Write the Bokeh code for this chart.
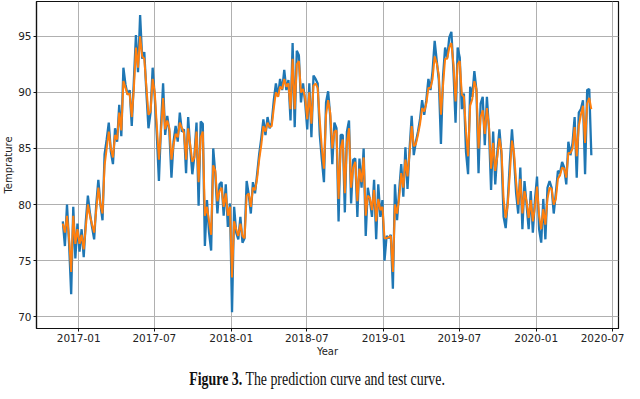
from datetime import datetime
import pandas as pd
from bokeh.plotting import figure
from bokeh.models import FixedTicker, DatetimeTickFormatter, Range1d, Div
from bokeh.layouts import column
from bokeh.embed import file_html
from bokeh.resources import INLINE

# ---- data (one value every 5 days) ----
start_date = "2016-11-24"
step = "5D"

test_values = [
    78.5, 76.3, 80.0, 76.5, 72.0, 79.8, 75.2, 78.3, 75.8, 77.8,
    75.3, 78.5, 80.8, 79.2, 78.0, 76.9, 80.0, 82.2, 80.0, 78.6,
    84.5, 85.8, 87.3, 84.7, 83.6, 86.8, 85.6, 88.9, 86.1, 92.2,
    90.7, 89.8, 90.2, 87.0, 91.0, 95.1, 91.8, 96.9, 93.0, 93.6,
    90.0, 86.8, 88.2, 92.2, 89.6, 86.2, 82.1, 87.0, 90.8, 86.2,
    87.9, 86.5, 82.4, 85.6, 87.0, 85.6, 88.2, 86.5, 86.7, 82.8,
    87.8, 85.0, 82.7, 84.4, 87.3, 79.9, 87.4, 87.2, 76.3, 80.4,
    77.5, 75.9, 85.0, 82.7, 79.2, 81.8, 82.0, 79.0, 81.8, 78.0,
    80.1, 70.4, 79.8, 77.5, 76.9, 78.9, 76.6, 77.0, 82.1, 80.9,
    79.2, 82.0, 81.0, 82.7, 84.5, 85.9, 87.6, 86.2, 87.8, 86.8,
    87.3, 89.3, 90.8, 89.6, 91.2, 90.2, 92.0, 90.2, 91.1, 87.5,
    94.4, 86.9, 93.7, 93.3, 89.1, 90.8, 89.1, 86.7, 90.8, 86.0,
    91.5, 91.2, 90.8, 86.2, 84.0, 82.0, 89.1, 90.1, 87.9, 83.6,
    87.3, 86.8, 78.5, 86.2, 86.2, 79.3, 86.5, 87.5, 80.1, 84.0,
    84.1, 78.9, 84.1, 81.5, 85.0, 77.2, 81.5, 80.4, 78.9, 82.2,
    76.9, 81.8, 78.9, 80.4, 75.0, 77.2, 77.0, 77.3, 72.5, 81.8,
    78.6, 81.2, 83.6, 80.7, 85.1, 81.4, 85.0, 87.9, 84.4, 85.6,
    86.5, 87.6, 89.3, 88.0, 89.3, 91.2, 90.2, 91.9, 94.6, 92.8,
    91.1, 85.4, 91.4, 94.0, 93.1, 94.9, 95.4, 91.9, 87.3, 94.0,
    93.1, 88.5, 89.9, 84.7, 82.7, 90.5, 89.6, 91.9, 90.2, 82.8,
    89.0, 89.6, 85.3, 89.6, 86.7, 81.3, 86.5, 81.8, 84.7, 86.7,
    84.4, 78.9, 77.9, 80.4, 83.8, 86.7, 84.1, 81.0, 79.2, 83.3,
    77.8, 82.1, 80.0, 77.8, 81.2, 77.5, 80.4, 82.5, 77.8, 76.6,
    80.5, 76.9, 81.5, 82.1, 81.5, 79.2, 81.0, 83.0, 82.8, 83.8,
    83.3, 81.8, 85.6, 84.4, 85.5, 87.8, 82.4, 88.2, 88.5, 89.3,
    82.7, 90.2, 90.3, 84.4,
]

pred_values = [
    78.3, 77.5, 79.0, 77.0, 74.0, 79.0, 76.5, 77.8, 76.5, 77.3,
    76.0, 78.0, 80.0, 79.0, 78.2, 77.5, 79.5, 81.5, 80.0, 79.2,
    83.5, 85.0, 86.5, 85.0, 84.2, 86.2, 85.8, 88.2, 86.6, 91.0,
    90.4, 89.8, 89.9, 87.8, 90.3, 94.0, 92.2, 95.0, 93.2, 93.0,
    90.5, 88.0, 88.3, 91.2, 90.0, 87.0, 84.0, 86.5, 89.5, 86.7,
    87.5, 86.8, 84.0, 85.3, 86.3, 86.0, 87.3, 86.8, 86.4, 84.0,
    86.8, 85.3, 83.8, 84.2, 86.5, 82.0, 86.0, 86.5, 79.0, 79.8,
    78.5, 77.3, 83.5, 83.0, 80.3, 81.2, 81.5, 79.8, 81.0, 79.0,
    79.8, 73.5, 78.5, 77.8, 77.2, 78.3, 77.2, 77.0, 80.8, 81.0,
    79.8, 81.5, 81.3, 82.3, 84.0, 85.3, 87.0, 86.5, 87.3, 86.9,
    87.0, 88.6, 90.0, 89.6, 90.5, 90.3, 91.2, 90.5, 90.8, 88.5,
    93.0, 88.5, 92.5, 92.8, 90.0, 90.3, 89.5, 87.6, 90.0, 87.2,
    90.6, 90.8, 90.4, 87.5, 85.0, 83.2, 88.0, 89.3, 88.2, 85.0,
    86.5, 86.6, 80.5, 85.0, 85.8, 81.0, 85.5, 86.8, 81.5, 83.3,
    83.8, 80.3, 83.2, 82.0, 84.2, 79.0, 80.8, 80.6, 79.5, 81.3,
    78.5, 80.5, 79.5, 79.8, 77.0, 77.0, 77.1, 77.2, 74.0, 80.0,
    79.2, 80.6, 82.8, 81.5, 84.0, 82.5, 84.6, 87.0, 85.2, 85.4,
    86.2, 87.2, 88.6, 88.3, 89.0, 90.4, 90.4, 91.2, 93.2, 92.6,
    91.5, 88.0, 90.6, 93.0, 93.0, 94.0, 94.4, 92.5, 89.2, 92.5,
    92.8, 89.8, 89.6, 86.5, 84.3, 88.8, 89.4, 91.0, 90.3, 85.0,
    87.8, 88.4, 86.3, 88.6, 87.0, 83.2, 85.5, 83.0, 84.3, 85.9,
    84.8, 80.5, 78.8, 80.0, 82.8, 85.7, 84.6, 82.0, 80.0, 82.3,
    79.2, 81.2, 80.3, 78.8, 80.4, 78.5, 79.8, 81.6, 79.0, 77.8,
    79.6, 78.2, 80.5, 81.5, 81.4, 80.0, 80.5, 82.3, 82.6, 83.3,
    83.2, 82.4, 84.6, 84.6, 85.0, 86.9, 84.3, 87.0, 88.0, 88.8,
    85.5, 89.0, 89.5, 88.5,
]

x_tick_labels = ["2017-01", "2017-07", "2018-01", "2018-07",
                 "2019-01", "2019-07", "2020-01", "2020-07"]
y_ticks = [70, 75, 80, 85, 90, 95]

dates = pd.date_range(start_date, periods=len(test_values), freq=step)
x_ticks_ms = [pd.Timestamp(t + "-01").timestamp() * 1000 for t in x_tick_labels]

p = figure(
    width=624, height=365,
    x_axis_type="datetime",
    x_range=Range1d(datetime(2016, 9, 22), datetime(2020, 7, 16)),
    y_range=Range1d(68.95, 98.1),
    output_backend="svg", toolbar_location=None,
    min_border_left=30, min_border_right=6,
    min_border_top=1, min_border_bottom=37,
)
p.background_fill_color = "white"
p.border_fill_color = "white"
p.outline_line_color = "#111111"
p.outline_line_width = 1.2

p.line(dates, test_values, color="#1f77b4", line_width=2.3)
p.line(dates, pred_values, color="#ff7f0e", line_width=2.0)

p.xaxis.ticker = FixedTicker(ticks=x_ticks_ms)
p.xaxis.formatter = DatetimeTickFormatter(
    years="%Y-%m", months="%Y-%m", days="%Y-%m", hours="%Y-%m")
p.yaxis.ticker = FixedTicker(ticks=y_ticks)

for ax in (p.xaxis[0], p.yaxis[0]):
    ax.axis_line_color = "#111111"
    ax.axis_line_width = 1.2
    ax.major_tick_line_color = "#111111"
    ax.major_tick_out = 3
    ax.major_tick_in = 0
    ax.minor_tick_out = 0
    ax.minor_tick_in = 0
    ax.major_label_text_font = "DejaVu Sans"
    ax.major_label_text_font_size = "10.5px"
    ax.major_label_text_color = "#222222"
    ax.major_label_standoff = 2
    ax.axis_label_text_font = "DejaVu Sans"
    ax.axis_label_text_font_size = "10px"
    ax.axis_label_text_font_style = "normal"
    ax.axis_label_text_color = "#222222"
    ax.axis_label_standoff = 1

p.xaxis.axis_label = "Year"
p.yaxis.axis_label = "Temprature"

p.xgrid.grid_line_color = "#b0b0b0"
p.ygrid.grid_line_color = "#b0b0b0"
p.xgrid.grid_line_width = 1
p.ygrid.grid_line_width = 1

caption = Div(
    text=('<span style="display:inline-block; transform:scaleX(0.73); '
          'transform-origin:center; white-space:nowrap">'
          '<b>Figure 3.</b> The prediction curve and test curve.</span>'),
    width=624, height=18,
    styles={"font-family": "'Liberation Serif', serif", "font-size": "19px",
            "text-align": "center", "line-height": "18px", "color": "#111"},
)

layout = column(p, caption)
open("out.html", "w").write(file_html(layout, INLINE))
